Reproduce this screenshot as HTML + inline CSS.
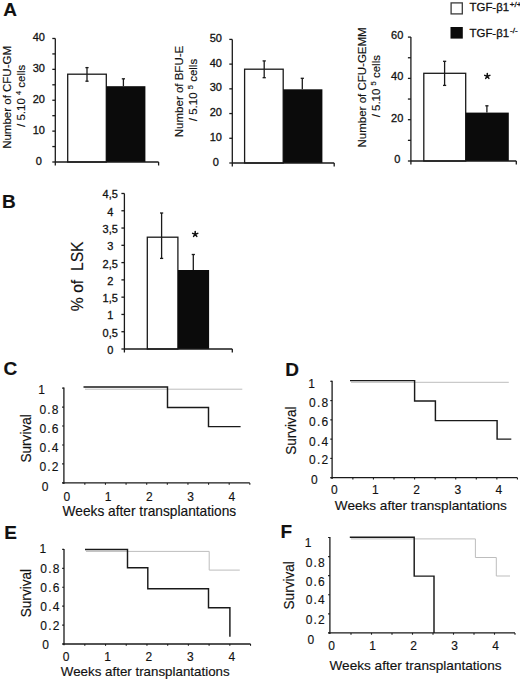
<!DOCTYPE html>
<html><head><meta charset="utf-8"><style>
html,body{margin:0;padding:0;background:#fff;}
body{width:520px;height:681px;overflow:hidden;}
svg{display:block;}
text{font-family:"Liberation Sans", sans-serif;fill:#111;stroke:#111;stroke-width:0.15px;}
.h{stroke-width:0.4px;}
.m{stroke-width:0.3px;}
</style></head><body>
<svg width="520" height="681" viewBox="0 0 520 681">
<rect width="520" height="681" fill="#fff"/>
<text x="3.3" y="15.8" font-size="19" text-anchor="start" font-weight="bold" >A</text>
<text x="2.0" y="207.6" font-size="19" text-anchor="start" font-weight="bold" >B</text>
<text x="3.4" y="374.6" font-size="19" text-anchor="start" font-weight="bold" >C</text>
<text x="285.2" y="375.6" font-size="19" text-anchor="start" font-weight="bold" >D</text>
<text x="4.2" y="538.6" font-size="19" text-anchor="start" font-weight="bold" >E</text>
<text x="280.6" y="538.0" font-size="19" text-anchor="start" font-weight="bold" >F</text>
<line x1="55.3" y1="38.47999999999999" x2="55.3" y2="165.5" stroke="#1a1a1a" stroke-width="1.3"/>
<line x1="52.3" y1="162.0" x2="55.3" y2="162.0" stroke="#1a1a1a" stroke-width="1.3"/>
<text x="38.8" y="164.5" font-size="11" text-anchor="middle" font-weight="normal" class="m">0</text>
<line x1="52.3" y1="146.56" x2="55.3" y2="146.56" stroke="#1a1a1a" stroke-width="1.3"/>
<line x1="52.3" y1="131.12" x2="55.3" y2="131.12" stroke="#1a1a1a" stroke-width="1.3"/>
<text x="38.8" y="133.62" font-size="11" text-anchor="middle" font-weight="normal" class="m">10</text>
<line x1="52.3" y1="115.68" x2="55.3" y2="115.68" stroke="#1a1a1a" stroke-width="1.3"/>
<line x1="52.3" y1="100.24" x2="55.3" y2="100.24" stroke="#1a1a1a" stroke-width="1.3"/>
<text x="38.8" y="102.74" font-size="11" text-anchor="middle" font-weight="normal" class="m">20</text>
<line x1="52.3" y1="84.8" x2="55.3" y2="84.8" stroke="#1a1a1a" stroke-width="1.3"/>
<line x1="52.3" y1="69.36" x2="55.3" y2="69.36" stroke="#1a1a1a" stroke-width="1.3"/>
<text x="38.8" y="71.86" font-size="11" text-anchor="middle" font-weight="normal" class="m">30</text>
<line x1="52.3" y1="53.92" x2="55.3" y2="53.92" stroke="#1a1a1a" stroke-width="1.3"/>
<line x1="52.3" y1="38.48" x2="55.3" y2="38.48" stroke="#1a1a1a" stroke-width="1.3"/>
<text x="38.8" y="40.98" font-size="11" text-anchor="middle" font-weight="normal" class="m">40</text>
<line x1="87.0" y1="67.6" x2="87.0" y2="81.2" stroke="#1a1a1a" stroke-width="1.3"/>
<line x1="85.4" y1="67.6" x2="88.6" y2="67.6" stroke="#1a1a1a" stroke-width="1.3"/>
<line x1="85.4" y1="81.2" x2="88.6" y2="81.2" stroke="#1a1a1a" stroke-width="1.3"/>
<rect x="67.7" y="74.2" width="38.599999999999994" height="87.8" fill="#fff" stroke="#1a1a1a" stroke-width="1.3"/>
<line x1="87.0" y1="74.2" x2="87.0" y2="81.2" stroke="#1a1a1a" stroke-width="1.3"/>
<line x1="85.4" y1="81.2" x2="88.6" y2="81.2" stroke="#1a1a1a" stroke-width="1.3"/>
<line x1="123.4" y1="78.8" x2="123.4" y2="86.2" stroke="#1a1a1a" stroke-width="1.3"/>
<line x1="121.80000000000001" y1="78.8" x2="125.0" y2="78.8" stroke="#1a1a1a" stroke-width="1.3"/>
<rect x="106.3" y="86.2" width="39.10000000000001" height="75.8" fill="#0b0b0b"/>
<line x1="55.3" y1="162.0" x2="158.6" y2="162.0" stroke="#1a1a1a" stroke-width="1.3"/>
<line x1="158.6" y1="162.0" x2="158.6" y2="165.5" stroke="#1a1a1a" stroke-width="1.3"/>
<line x1="232.3" y1="39.400000000000006" x2="232.3" y2="166.5" stroke="#1a1a1a" stroke-width="1.3"/>
<line x1="229.3" y1="163.0" x2="232.3" y2="163.0" stroke="#1a1a1a" stroke-width="1.3"/>
<text x="215.8" y="165.6" font-size="11" text-anchor="middle" font-weight="normal" class="m">0</text>
<line x1="229.3" y1="138.28" x2="232.3" y2="138.28" stroke="#1a1a1a" stroke-width="1.3"/>
<text x="215.8" y="140.88" font-size="11" text-anchor="middle" font-weight="normal" class="m">10</text>
<line x1="229.3" y1="113.56" x2="232.3" y2="113.56" stroke="#1a1a1a" stroke-width="1.3"/>
<text x="215.8" y="116.16" font-size="11" text-anchor="middle" font-weight="normal" class="m">20</text>
<line x1="229.3" y1="88.84" x2="232.3" y2="88.84" stroke="#1a1a1a" stroke-width="1.3"/>
<text x="215.8" y="91.44" font-size="11" text-anchor="middle" font-weight="normal" class="m">30</text>
<line x1="229.3" y1="64.12" x2="232.3" y2="64.12" stroke="#1a1a1a" stroke-width="1.3"/>
<text x="215.8" y="66.72" font-size="11" text-anchor="middle" font-weight="normal" class="m">40</text>
<line x1="229.3" y1="39.4" x2="232.3" y2="39.4" stroke="#1a1a1a" stroke-width="1.3"/>
<text x="215.8" y="42.0" font-size="11" text-anchor="middle" font-weight="normal" class="m">50</text>
<line x1="264.2" y1="60.9" x2="264.2" y2="77.7" stroke="#1a1a1a" stroke-width="1.3"/>
<line x1="262.59999999999997" y1="60.9" x2="265.8" y2="60.9" stroke="#1a1a1a" stroke-width="1.3"/>
<line x1="262.59999999999997" y1="77.7" x2="265.8" y2="77.7" stroke="#1a1a1a" stroke-width="1.3"/>
<rect x="244.6" y="69.2" width="38.599999999999994" height="93.8" fill="#fff" stroke="#1a1a1a" stroke-width="1.3"/>
<line x1="264.2" y1="69.2" x2="264.2" y2="77.7" stroke="#1a1a1a" stroke-width="1.3"/>
<line x1="262.59999999999997" y1="77.7" x2="265.8" y2="77.7" stroke="#1a1a1a" stroke-width="1.3"/>
<line x1="302.3" y1="78.3" x2="302.3" y2="89.3" stroke="#1a1a1a" stroke-width="1.3"/>
<line x1="300.7" y1="78.3" x2="303.90000000000003" y2="78.3" stroke="#1a1a1a" stroke-width="1.3"/>
<rect x="283.2" y="89.3" width="39.19999999999999" height="73.7" fill="#0b0b0b"/>
<line x1="232.3" y1="163.0" x2="334.2" y2="163.0" stroke="#1a1a1a" stroke-width="1.3"/>
<line x1="334.2" y1="163.0" x2="334.2" y2="166.5" stroke="#1a1a1a" stroke-width="1.3"/>
<line x1="410.9" y1="37.10000000000001" x2="410.9" y2="164.5" stroke="#1a1a1a" stroke-width="1.3"/>
<line x1="407.9" y1="161.0" x2="410.9" y2="161.0" stroke="#1a1a1a" stroke-width="1.3"/>
<text x="397.2" y="162.8" font-size="11" text-anchor="middle" font-weight="normal" class="m">0</text>
<line x1="407.9" y1="140.35" x2="410.9" y2="140.35" stroke="#1a1a1a" stroke-width="1.3"/>
<line x1="407.9" y1="119.7" x2="410.9" y2="119.7" stroke="#1a1a1a" stroke-width="1.3"/>
<text x="397.2" y="121.5" font-size="11" text-anchor="middle" font-weight="normal" class="m">20</text>
<line x1="407.9" y1="99.05" x2="410.9" y2="99.05" stroke="#1a1a1a" stroke-width="1.3"/>
<line x1="407.9" y1="78.4" x2="410.9" y2="78.4" stroke="#1a1a1a" stroke-width="1.3"/>
<text x="397.2" y="80.2" font-size="11" text-anchor="middle" font-weight="normal" class="m">40</text>
<line x1="407.9" y1="57.75" x2="410.9" y2="57.75" stroke="#1a1a1a" stroke-width="1.3"/>
<line x1="407.9" y1="37.1" x2="410.9" y2="37.1" stroke="#1a1a1a" stroke-width="1.3"/>
<text x="397.2" y="38.9" font-size="11" text-anchor="middle" font-weight="normal" class="m">60</text>
<line x1="444.6" y1="61.3" x2="444.6" y2="85.4" stroke="#1a1a1a" stroke-width="1.3"/>
<line x1="443.0" y1="61.3" x2="446.20000000000005" y2="61.3" stroke="#1a1a1a" stroke-width="1.3"/>
<line x1="443.0" y1="85.4" x2="446.20000000000005" y2="85.4" stroke="#1a1a1a" stroke-width="1.3"/>
<rect x="423.8" y="73.3" width="41.89999999999998" height="87.7" fill="#fff" stroke="#1a1a1a" stroke-width="1.3"/>
<line x1="444.6" y1="73.3" x2="444.6" y2="85.4" stroke="#1a1a1a" stroke-width="1.3"/>
<line x1="443.0" y1="85.4" x2="446.20000000000005" y2="85.4" stroke="#1a1a1a" stroke-width="1.3"/>
<line x1="486.9" y1="105.8" x2="486.9" y2="112.6" stroke="#1a1a1a" stroke-width="1.3"/>
<line x1="485.29999999999995" y1="105.8" x2="488.5" y2="105.8" stroke="#1a1a1a" stroke-width="1.3"/>
<rect x="465.7" y="112.6" width="43.10000000000002" height="48.400000000000006" fill="#0b0b0b"/>
<line x1="410.9" y1="161.0" x2="516.3" y2="161.0" stroke="#1a1a1a" stroke-width="1.3"/>
<line x1="516.3" y1="161.0" x2="516.3" y2="164.5" stroke="#1a1a1a" stroke-width="1.3"/>
<path d="M487.30,76.20L487.30,73.50M487.30,76.20L489.87,75.37M487.30,76.20L488.89,78.38M487.30,76.20L485.71,78.38M487.30,76.20L484.73,75.37" stroke="#111" stroke-width="1.55" stroke-linecap="round" fill="none"/>
<text transform="translate(11.0,97.4) rotate(-90)" font-size="11.5" text-anchor="middle" >Number of CFU-GM</text>
<text transform="translate(25.2,95.8) rotate(-90)" font-size="11.5" text-anchor="middle" >/ 5.10 <tspan font-size="7.5" dy="-4">4</tspan><tspan dy="4"> cells</tspan></text>
<text transform="translate(182.6,91.5) rotate(-90)" font-size="11.5" text-anchor="middle" >Number of BFU-E</text>
<text transform="translate(197.4,90.0) rotate(-90)" font-size="11.5" text-anchor="middle" >/ 5.10 <tspan font-size="7.5" dy="-4">5</tspan><tspan dy="4"> cells</tspan></text>
<text transform="translate(366.2,87.4) rotate(-90)" font-size="11.5" text-anchor="middle" >Number of CFU-GEMM</text>
<text transform="translate(380.4,86.2) rotate(-90)" font-size="11.5" text-anchor="middle" >/ 5.10 <tspan font-size="7.5" dy="-4">5</tspan><tspan dy="4"> cells</tspan></text>
<rect x="451.1" y="2.9" width="11.2" height="11.0" fill="#fff" stroke="#3a3a3a" stroke-width="1.3"/>
<rect x="450.5" y="27" width="12.3" height="11.6" fill="#0b0b0b"/>
<text x="469.6" y="11.2" font-size="11.4" text-anchor="start" font-weight="normal" class="m">TGF-β1<tspan font-size="8" dx="0.8" dy="-4.3">+/+</tspan></text>
<text x="469.6" y="36.8" font-size="11.4" text-anchor="start" font-weight="normal" class="m">TGF-β1<tspan font-size="8" dx="1.0" dy="-4.3">-/-</tspan></text>
<line x1="124.4" y1="193.48" x2="124.4" y2="352.5" stroke="#1a1a1a" stroke-width="1.3"/>
<line x1="121.4" y1="349.0" x2="124.4" y2="349.0" stroke="#1a1a1a" stroke-width="1.3"/>
<text x="110.2" y="354.0" font-size="11" text-anchor="middle" font-weight="normal" class="m">0</text>
<line x1="121.4" y1="331.72" x2="124.4" y2="331.72" stroke="#1a1a1a" stroke-width="1.3"/>
<text x="110.2" y="336.72" font-size="11" text-anchor="middle" font-weight="normal" class="m">0,5</text>
<line x1="121.4" y1="314.44" x2="124.4" y2="314.44" stroke="#1a1a1a" stroke-width="1.3"/>
<text x="110.2" y="319.44" font-size="11" text-anchor="middle" font-weight="normal" class="m">1</text>
<line x1="121.4" y1="297.16" x2="124.4" y2="297.16" stroke="#1a1a1a" stroke-width="1.3"/>
<text x="110.2" y="302.16" font-size="11" text-anchor="middle" font-weight="normal" class="m">1,5</text>
<line x1="121.4" y1="279.88" x2="124.4" y2="279.88" stroke="#1a1a1a" stroke-width="1.3"/>
<text x="110.2" y="284.88" font-size="11" text-anchor="middle" font-weight="normal" class="m">2</text>
<line x1="121.4" y1="262.6" x2="124.4" y2="262.6" stroke="#1a1a1a" stroke-width="1.3"/>
<text x="110.2" y="267.6" font-size="11" text-anchor="middle" font-weight="normal" class="m">2,5</text>
<line x1="121.4" y1="245.32" x2="124.4" y2="245.32" stroke="#1a1a1a" stroke-width="1.3"/>
<text x="110.2" y="250.32" font-size="11" text-anchor="middle" font-weight="normal" class="m">3</text>
<line x1="121.4" y1="228.04" x2="124.4" y2="228.04" stroke="#1a1a1a" stroke-width="1.3"/>
<text x="110.2" y="233.04" font-size="11" text-anchor="middle" font-weight="normal" class="m">3,5</text>
<line x1="121.4" y1="210.76" x2="124.4" y2="210.76" stroke="#1a1a1a" stroke-width="1.3"/>
<text x="110.2" y="215.76" font-size="11" text-anchor="middle" font-weight="normal" class="m">4</text>
<line x1="121.4" y1="193.48" x2="124.4" y2="193.48" stroke="#1a1a1a" stroke-width="1.3"/>
<text x="110.2" y="198.48" font-size="11" text-anchor="middle" font-weight="normal" class="m">4,5</text>
<line x1="161.6" y1="213.0" x2="161.6" y2="258.4" stroke="#1a1a1a" stroke-width="1.3"/>
<line x1="160.0" y1="213.0" x2="163.2" y2="213.0" stroke="#1a1a1a" stroke-width="1.3"/>
<line x1="160.0" y1="258.4" x2="163.2" y2="258.4" stroke="#1a1a1a" stroke-width="1.3"/>
<rect x="147.3" y="237.2" width="30.599999999999994" height="111.80000000000001" fill="#fff" stroke="#1a1a1a" stroke-width="1.3"/>
<line x1="161.6" y1="237.2" x2="161.6" y2="258.4" stroke="#1a1a1a" stroke-width="1.3"/>
<line x1="160.0" y1="258.4" x2="163.2" y2="258.4" stroke="#1a1a1a" stroke-width="1.3"/>
<line x1="193.3" y1="254.5" x2="193.3" y2="270.0" stroke="#1a1a1a" stroke-width="1.3"/>
<line x1="191.70000000000002" y1="254.5" x2="194.9" y2="254.5" stroke="#1a1a1a" stroke-width="1.3"/>
<rect x="177.9" y="270.0" width="31.19999999999999" height="79.0" fill="#0b0b0b"/>
<line x1="124.4" y1="349.0" x2="232.3" y2="349.0" stroke="#1a1a1a" stroke-width="1.3"/>
<line x1="232.3" y1="349.0" x2="232.3" y2="352.5" stroke="#1a1a1a" stroke-width="1.3"/>
<path d="M195.20,234.20L195.20,231.50M195.20,234.20L197.77,233.37M195.20,234.20L196.79,236.38M195.20,234.20L193.61,236.38M195.20,234.20L192.63,233.37" stroke="#111" stroke-width="1.55" stroke-linecap="round" fill="none"/>
<text transform="translate(83.0,276.3) rotate(-90)" font-size="15.7" text-anchor="middle" >% of&#160;&#160;LSK</text>
<line x1="63.9" y1="387.6" x2="63.9" y2="484.09999999999997" stroke="#1a1a1a" stroke-width="1.3"/>
<line x1="62.1" y1="482.9" x2="63.9" y2="482.9" stroke="#1a1a1a" stroke-width="1.2"/>
<line x1="62.1" y1="463.94" x2="63.9" y2="463.94" stroke="#1a1a1a" stroke-width="1.2"/>
<line x1="62.1" y1="444.98" x2="63.9" y2="444.98" stroke="#1a1a1a" stroke-width="1.2"/>
<line x1="62.1" y1="426.02" x2="63.9" y2="426.02" stroke="#1a1a1a" stroke-width="1.2"/>
<line x1="62.1" y1="407.06" x2="63.9" y2="407.06" stroke="#1a1a1a" stroke-width="1.2"/>
<line x1="62.1" y1="388.1" x2="63.9" y2="388.1" stroke="#1a1a1a" stroke-width="1.2"/>
<text x="38.2" y="394.4" font-size="12.0" text-anchor="start" font-weight="normal" letter-spacing="1.2">1</text>
<text x="39.4" y="413.5" font-size="12.0" text-anchor="start" font-weight="normal" letter-spacing="1.2">0.8</text>
<text x="39.4" y="432.9" font-size="12.0" text-anchor="start" font-weight="normal" letter-spacing="1.2">0.6</text>
<text x="39.4" y="452.2" font-size="12.0" text-anchor="start" font-weight="normal" letter-spacing="1.2">0.4</text>
<text x="39.4" y="471.3" font-size="12.0" text-anchor="start" font-weight="normal" letter-spacing="1.2">0.2</text>
<text x="41.7" y="490.5" font-size="12.0" text-anchor="start" font-weight="normal" letter-spacing="1.2">0</text>
<line x1="62.4" y1="482.9" x2="249.82" y2="482.9" stroke="#1a1a1a" stroke-width="1.3"/>
<line x1="84.83" y1="482.9" x2="84.83" y2="484.7" stroke="#1a1a1a" stroke-width="1.1"/>
<line x1="105.45" y1="482.9" x2="105.45" y2="484.7" stroke="#1a1a1a" stroke-width="1.1"/>
<line x1="126.08" y1="482.9" x2="126.08" y2="484.7" stroke="#1a1a1a" stroke-width="1.1"/>
<line x1="146.7" y1="482.9" x2="146.7" y2="484.7" stroke="#1a1a1a" stroke-width="1.1"/>
<line x1="167.32" y1="482.9" x2="167.32" y2="484.7" stroke="#1a1a1a" stroke-width="1.1"/>
<line x1="187.95" y1="482.9" x2="187.95" y2="484.7" stroke="#1a1a1a" stroke-width="1.1"/>
<line x1="208.57" y1="482.9" x2="208.57" y2="484.7" stroke="#1a1a1a" stroke-width="1.1"/>
<line x1="229.2" y1="482.9" x2="229.2" y2="484.7" stroke="#1a1a1a" stroke-width="1.1"/>
<line x1="249.82" y1="482.9" x2="249.82" y2="484.7" stroke="#1a1a1a" stroke-width="1.1"/>
<text x="66.9" y="501.0" font-size="12.0" text-anchor="middle" font-weight="normal" >0</text>
<text x="108.15" y="501.0" font-size="12.0" text-anchor="middle" font-weight="normal" >1</text>
<text x="149.4" y="501.0" font-size="12.0" text-anchor="middle" font-weight="normal" >2</text>
<text x="190.65" y="501.0" font-size="12.0" text-anchor="middle" font-weight="normal" >3</text>
<text x="231.9" y="501.0" font-size="12.0" text-anchor="middle" font-weight="normal" >4</text>
<text x="62.6" y="516.0" font-size="13.72" text-anchor="start" font-weight="normal" >Weeks after transplantations</text>
<text transform="translate(31.0,438.4) scale(1.1,1) rotate(-90)" font-size="13.6" text-anchor="middle" >Survival</text>
<polyline points="85.0,389.2 242.3,389.2" fill="none" stroke="#bdbdbd" stroke-width="1.0" stroke-linejoin="miter" stroke-linecap="butt"/>
<polyline points="83.5,386.9 167.5,386.9 167.5,407.5 208.5,407.5 208.5,426.6 240.6,426.6" fill="none" stroke="#1a1a1a" stroke-width="1.45" stroke-linejoin="miter" stroke-linecap="butt"/>
<line x1="332.1" y1="380.8" x2="332.1" y2="478.9" stroke="#1a1a1a" stroke-width="1.3"/>
<line x1="330.3" y1="477.7" x2="332.1" y2="477.7" stroke="#1a1a1a" stroke-width="1.2"/>
<line x1="330.3" y1="458.42" x2="332.1" y2="458.42" stroke="#1a1a1a" stroke-width="1.2"/>
<line x1="330.3" y1="439.14" x2="332.1" y2="439.14" stroke="#1a1a1a" stroke-width="1.2"/>
<line x1="330.3" y1="419.86" x2="332.1" y2="419.86" stroke="#1a1a1a" stroke-width="1.2"/>
<line x1="330.3" y1="400.58" x2="332.1" y2="400.58" stroke="#1a1a1a" stroke-width="1.2"/>
<line x1="330.3" y1="381.3" x2="332.1" y2="381.3" stroke="#1a1a1a" stroke-width="1.2"/>
<text x="308.2" y="387.7" font-size="12.0" text-anchor="start" font-weight="normal" letter-spacing="1.2">1</text>
<text x="309.1" y="406.5" font-size="12.0" text-anchor="start" font-weight="normal" letter-spacing="1.2">0.8</text>
<text x="309.1" y="425.6" font-size="12.0" text-anchor="start" font-weight="normal" letter-spacing="1.2">0.6</text>
<text x="309.1" y="445.8" font-size="12.0" text-anchor="start" font-weight="normal" letter-spacing="1.2">0.4</text>
<text x="309.1" y="464.4" font-size="12.0" text-anchor="start" font-weight="normal" letter-spacing="1.2">0.2</text>
<text x="311.0" y="483.7" font-size="12.0" text-anchor="start" font-weight="normal" letter-spacing="1.2">0</text>
<line x1="330.6" y1="477.7" x2="517.43" y2="477.7" stroke="#1a1a1a" stroke-width="1.3"/>
<line x1="352.87" y1="477.7" x2="352.87" y2="479.5" stroke="#1a1a1a" stroke-width="1.1"/>
<line x1="373.44" y1="477.7" x2="373.44" y2="479.5" stroke="#1a1a1a" stroke-width="1.1"/>
<line x1="394.01" y1="477.7" x2="394.01" y2="479.5" stroke="#1a1a1a" stroke-width="1.1"/>
<line x1="414.58" y1="477.7" x2="414.58" y2="479.5" stroke="#1a1a1a" stroke-width="1.1"/>
<line x1="435.15" y1="477.7" x2="435.15" y2="479.5" stroke="#1a1a1a" stroke-width="1.1"/>
<line x1="455.72" y1="477.7" x2="455.72" y2="479.5" stroke="#1a1a1a" stroke-width="1.1"/>
<line x1="476.29" y1="477.7" x2="476.29" y2="479.5" stroke="#1a1a1a" stroke-width="1.1"/>
<line x1="496.86" y1="477.7" x2="496.86" y2="479.5" stroke="#1a1a1a" stroke-width="1.1"/>
<line x1="517.43" y1="477.7" x2="517.43" y2="479.5" stroke="#1a1a1a" stroke-width="1.1"/>
<text x="334.3" y="493.8" font-size="12.0" text-anchor="middle" font-weight="normal" >0</text>
<text x="375.44" y="493.8" font-size="12.0" text-anchor="middle" font-weight="normal" >1</text>
<text x="416.58" y="493.8" font-size="12.0" text-anchor="middle" font-weight="normal" >2</text>
<text x="457.72" y="493.8" font-size="12.0" text-anchor="middle" font-weight="normal" >3</text>
<text x="498.86" y="493.8" font-size="12.0" text-anchor="middle" font-weight="normal" >4</text>
<text x="334.8" y="510.2" font-size="13.6" text-anchor="start" font-weight="normal" >Weeks after transplantations</text>
<text transform="translate(296.1,430.7) scale(1.1,1) rotate(-90)" font-size="13.6" text-anchor="middle" >Survival</text>
<polyline points="351.0,382.3 508.8,382.3" fill="none" stroke="#bdbdbd" stroke-width="1.0" stroke-linejoin="miter" stroke-linecap="butt"/>
<polyline points="350.0,380.6 414.6,380.6 414.6,401.0 435.4,401.0 435.4,420.6 497.1,420.6 497.1,439.1 511.3,439.1" fill="none" stroke="#1a1a1a" stroke-width="1.45" stroke-linejoin="miter" stroke-linecap="butt"/>
<line x1="64.0" y1="548.9" x2="64.0" y2="645.2" stroke="#1a1a1a" stroke-width="1.3"/>
<line x1="62.2" y1="644.0" x2="64.0" y2="644.0" stroke="#1a1a1a" stroke-width="1.2"/>
<line x1="62.2" y1="625.08" x2="64.0" y2="625.08" stroke="#1a1a1a" stroke-width="1.2"/>
<line x1="62.2" y1="606.16" x2="64.0" y2="606.16" stroke="#1a1a1a" stroke-width="1.2"/>
<line x1="62.2" y1="587.24" x2="64.0" y2="587.24" stroke="#1a1a1a" stroke-width="1.2"/>
<line x1="62.2" y1="568.32" x2="64.0" y2="568.32" stroke="#1a1a1a" stroke-width="1.2"/>
<line x1="62.2" y1="549.4" x2="64.0" y2="549.4" stroke="#1a1a1a" stroke-width="1.2"/>
<text x="39.5" y="552.9" font-size="12.0" text-anchor="start" font-weight="normal" letter-spacing="1.2">1</text>
<text x="40.3" y="572.5" font-size="12.0" text-anchor="start" font-weight="normal" letter-spacing="1.2">0.8</text>
<text x="40.3" y="591.6" font-size="12.0" text-anchor="start" font-weight="normal" letter-spacing="1.2">0.6</text>
<text x="40.3" y="610.6" font-size="12.0" text-anchor="start" font-weight="normal" letter-spacing="1.2">0.4</text>
<text x="40.3" y="629.9" font-size="12.0" text-anchor="start" font-weight="normal" letter-spacing="1.2">0.2</text>
<text x="42.2" y="649.4" font-size="12.0" text-anchor="start" font-weight="normal" letter-spacing="1.2">0</text>
<line x1="62.5" y1="644.0" x2="250.53" y2="644.0" stroke="#1a1a1a" stroke-width="1.3"/>
<line x1="84.81" y1="644.0" x2="84.81" y2="645.8" stroke="#1a1a1a" stroke-width="1.1"/>
<line x1="105.53" y1="644.0" x2="105.53" y2="645.8" stroke="#1a1a1a" stroke-width="1.1"/>
<line x1="126.24" y1="644.0" x2="126.24" y2="645.8" stroke="#1a1a1a" stroke-width="1.1"/>
<line x1="146.96" y1="644.0" x2="146.96" y2="645.8" stroke="#1a1a1a" stroke-width="1.1"/>
<line x1="167.68" y1="644.0" x2="167.68" y2="645.8" stroke="#1a1a1a" stroke-width="1.1"/>
<line x1="188.39" y1="644.0" x2="188.39" y2="645.8" stroke="#1a1a1a" stroke-width="1.1"/>
<line x1="209.1" y1="644.0" x2="209.1" y2="645.8" stroke="#1a1a1a" stroke-width="1.1"/>
<line x1="229.82" y1="644.0" x2="229.82" y2="645.8" stroke="#1a1a1a" stroke-width="1.1"/>
<line x1="250.53" y1="644.0" x2="250.53" y2="645.8" stroke="#1a1a1a" stroke-width="1.1"/>
<text x="66.1" y="660.8" font-size="12.0" text-anchor="middle" font-weight="normal" >0</text>
<text x="107.53" y="660.8" font-size="12.0" text-anchor="middle" font-weight="normal" >1</text>
<text x="148.96" y="660.8" font-size="12.0" text-anchor="middle" font-weight="normal" >2</text>
<text x="190.39" y="660.8" font-size="12.0" text-anchor="middle" font-weight="normal" >3</text>
<text x="231.82" y="660.8" font-size="12.0" text-anchor="middle" font-weight="normal" >4</text>
<text x="60.8" y="676.0" font-size="13.35" text-anchor="start" font-weight="normal" >Weeks after transplantations</text>
<text transform="translate(31.0,593.1) scale(1.1,1) rotate(-90)" font-size="13.6" text-anchor="middle" >Survival</text>
<polyline points="86.0,551.4 209.2,551.4 209.2,570.1 239.8,570.1" fill="none" stroke="#bdbdbd" stroke-width="1.0" stroke-linejoin="miter" stroke-linecap="butt"/>
<polyline points="85.0,549.4 127.5,549.4 127.5,567.8 147.8,567.8 147.8,588.8 208.5,588.8 208.5,607.8 229.9,607.8 229.9,636.8" fill="none" stroke="#1a1a1a" stroke-width="1.45" stroke-linejoin="miter" stroke-linecap="butt"/>
<line x1="329.9" y1="537.0" x2="329.9" y2="634.1" stroke="#1a1a1a" stroke-width="1.3"/>
<line x1="328.09999999999997" y1="632.9" x2="329.9" y2="632.9" stroke="#1a1a1a" stroke-width="1.2"/>
<line x1="328.09999999999997" y1="613.82" x2="329.9" y2="613.82" stroke="#1a1a1a" stroke-width="1.2"/>
<line x1="328.09999999999997" y1="594.74" x2="329.9" y2="594.74" stroke="#1a1a1a" stroke-width="1.2"/>
<line x1="328.09999999999997" y1="575.66" x2="329.9" y2="575.66" stroke="#1a1a1a" stroke-width="1.2"/>
<line x1="328.09999999999997" y1="556.58" x2="329.9" y2="556.58" stroke="#1a1a1a" stroke-width="1.2"/>
<line x1="328.09999999999997" y1="537.5" x2="329.9" y2="537.5" stroke="#1a1a1a" stroke-width="1.2"/>
<text x="304.7" y="547.2" font-size="12.0" text-anchor="start" font-weight="normal" letter-spacing="1.2">1</text>
<text x="305.7" y="566.5" font-size="12.0" text-anchor="start" font-weight="normal" letter-spacing="1.2">0.8</text>
<text x="305.7" y="585.5" font-size="12.0" text-anchor="start" font-weight="normal" letter-spacing="1.2">0.6</text>
<text x="305.7" y="604.3" font-size="12.0" text-anchor="start" font-weight="normal" letter-spacing="1.2">0.4</text>
<text x="305.7" y="624.0" font-size="12.0" text-anchor="start" font-weight="normal" letter-spacing="1.2">0.2</text>
<text x="307.5" y="643.5" font-size="12.0" text-anchor="start" font-weight="normal" letter-spacing="1.2">0</text>
<line x1="328.4" y1="632.9" x2="515.0" y2="632.9" stroke="#1a1a1a" stroke-width="1.3"/>
<line x1="351.0" y1="632.9" x2="351.0" y2="634.6999999999999" stroke="#1a1a1a" stroke-width="1.1"/>
<line x1="371.5" y1="632.9" x2="371.5" y2="634.6999999999999" stroke="#1a1a1a" stroke-width="1.1"/>
<line x1="392.0" y1="632.9" x2="392.0" y2="634.6999999999999" stroke="#1a1a1a" stroke-width="1.1"/>
<line x1="412.5" y1="632.9" x2="412.5" y2="634.6999999999999" stroke="#1a1a1a" stroke-width="1.1"/>
<line x1="433.0" y1="632.9" x2="433.0" y2="634.6999999999999" stroke="#1a1a1a" stroke-width="1.1"/>
<line x1="453.5" y1="632.9" x2="453.5" y2="634.6999999999999" stroke="#1a1a1a" stroke-width="1.1"/>
<line x1="474.0" y1="632.9" x2="474.0" y2="634.6999999999999" stroke="#1a1a1a" stroke-width="1.1"/>
<line x1="494.5" y1="632.9" x2="494.5" y2="634.6999999999999" stroke="#1a1a1a" stroke-width="1.1"/>
<line x1="515.0" y1="632.9" x2="515.0" y2="634.6999999999999" stroke="#1a1a1a" stroke-width="1.1"/>
<text x="331.7" y="649.6" font-size="12.0" text-anchor="middle" font-weight="normal" >0</text>
<text x="372.7" y="649.6" font-size="12.0" text-anchor="middle" font-weight="normal" >1</text>
<text x="413.7" y="649.6" font-size="12.0" text-anchor="middle" font-weight="normal" >2</text>
<text x="454.7" y="649.6" font-size="12.0" text-anchor="middle" font-weight="normal" >3</text>
<text x="495.7" y="649.6" font-size="12.0" text-anchor="middle" font-weight="normal" >4</text>
<text x="329.5" y="670.2" font-size="13.6" text-anchor="start" font-weight="normal" >Weeks after transplantations</text>
<text transform="translate(294.2,585.3) scale(1.1,1) rotate(-90)" font-size="13.6" text-anchor="middle" >Survival</text>
<polyline points="351.0,538.9 475.4,538.9 475.4,557.5 496.3,557.5 496.3,576.0 510.0,576.0" fill="none" stroke="#bdbdbd" stroke-width="1.0" stroke-linejoin="miter" stroke-linecap="butt"/>
<polyline points="349.8,537.3 414.2,537.3 414.2,576.1 434.0,576.1 434.0,632.9" fill="none" stroke="#1a1a1a" stroke-width="1.45" stroke-linejoin="miter" stroke-linecap="butt"/>
</svg>
</body></html>
